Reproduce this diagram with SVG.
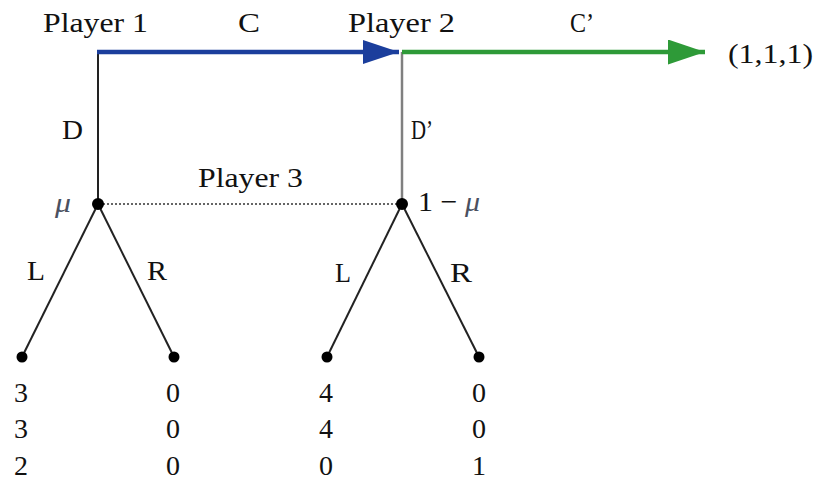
<svg xmlns="http://www.w3.org/2000/svg" width="819" height="487" viewBox="0 0 819 487">
  <style>
    text { font-family: 'Liberation Serif', Tinos, 'Times New Roman', Times, serif; font-size: 28px; fill: #111; }
    .mu { font-style: italic; fill: #4a5060; }
    .edge { stroke: #222; stroke-width: 2; fill: none; }
    .dot { fill: #000; }
  </style>
  <defs>
    <marker id="arrowBlue" viewBox="0 0 36 24" refX="36" refY="12" markerWidth="36" markerHeight="24" markerUnits="userSpaceOnUse" orient="auto">
      <path d="M0,0 L36,12 L0,24 Z" fill="#1b3e9c"/>
    </marker>
    <marker id="arrowGreen" viewBox="0 0 37 25" refX="37" refY="12.5" markerWidth="37" markerHeight="25" markerUnits="userSpaceOnUse" orient="auto">
      <path d="M0,0 L37,12.5 L0,25 Z" fill="#2e9a38"/>
    </marker>
  </defs>

  <!-- connectors -->
  <g id="connectors">
    <line x1="98" y1="52" x2="98" y2="204" class="edge"/>
    <line x1="402" y1="52" x2="402" y2="204" stroke="#808080" stroke-width="2.5"/>
    <line x1="97" y1="52" x2="399" y2="52" stroke="#1b3e9c" stroke-width="4.5" marker-end="url(#arrowBlue)"/>
    <line x1="402" y1="52" x2="705" y2="52" stroke="#2e9a38" stroke-width="4.5" marker-end="url(#arrowGreen)"/>
    <line x1="103" y1="204" x2="397" y2="204" stroke="#333" stroke-width="1.5" stroke-dasharray="2,2"/>
    <line x1="98" y1="204" x2="22" y2="357" class="edge"/>
    <line x1="98" y1="204" x2="174" y2="357" class="edge"/>
    <line x1="402" y1="204" x2="327" y2="357" class="edge"/>
    <line x1="402" y1="204" x2="479" y2="357" class="edge"/>
  </g>

  <!-- decision nodes -->
  <g id="player1">
    <text x="43" y="32" textLength="105" lengthAdjust="spacingAndGlyphs">Player 1</text>
  </g>
  <g id="player2">
    <text x="348" y="32" textLength="107" lengthAdjust="spacingAndGlyphs">Player 2</text>
  </g>
  <g id="player3-left">
    <circle cx="98" cy="204" r="6" class="dot"/>
    <text x="55" y="212" class="mu" textLength="16" lengthAdjust="spacingAndGlyphs">μ</text>
  </g>
  <g id="player3-right">
    <circle cx="402" cy="204" r="6" class="dot"/>
    <text x="418" y="211" textLength="62" lengthAdjust="spacingAndGlyphs">1 − <tspan class="mu">μ</tspan></text>
  </g>
  <g id="info-set">
    <text x="198" y="187" textLength="105" lengthAdjust="spacingAndGlyphs">Player 3</text>
  </g>

  <!-- action labels -->
  <g id="actions">
    <text x="238" y="32" textLength="22" lengthAdjust="spacingAndGlyphs">C</text>
    <text x="570" y="32" textLength="24" lengthAdjust="spacingAndGlyphs">C’</text>
    <text x="62" y="139" textLength="21" lengthAdjust="spacingAndGlyphs">D</text>
    <text x="411" y="139" textLength="22" lengthAdjust="spacingAndGlyphs">D’</text>
    <text x="27" y="280" textLength="18" lengthAdjust="spacingAndGlyphs">L</text>
    <text x="147" y="280" textLength="20" lengthAdjust="spacingAndGlyphs">R</text>
    <text x="335" y="282" textLength="16" lengthAdjust="spacingAndGlyphs">L</text>
    <text x="450" y="282" textLength="22" lengthAdjust="spacingAndGlyphs">R</text>
  </g>

  <!-- terminal nodes with payoffs -->
  <g id="outcome-C">
    <text x="728" y="63" textLength="85" lengthAdjust="spacingAndGlyphs">(1,1,1)</text>
  </g>
  <g id="leaf-1">
    <circle cx="22" cy="357" r="5.5" class="dot"/>
    <text x="14" y="402">3</text>
    <text x="14" y="438">3</text>
    <text x="14" y="475">2</text>
  </g>
  <g id="leaf-2">
    <circle cx="174" cy="357" r="5.5" class="dot"/>
    <text x="166" y="402">0</text>
    <text x="166" y="438">0</text>
    <text x="166" y="475">0</text>
  </g>
  <g id="leaf-3">
    <circle cx="327" cy="357" r="5.5" class="dot"/>
    <text x="319" y="402">4</text>
    <text x="319" y="438">4</text>
    <text x="319" y="475">0</text>
  </g>
  <g id="leaf-4">
    <circle cx="479" cy="357" r="5.5" class="dot"/>
    <text x="472" y="402">0</text>
    <text x="472" y="438">0</text>
    <text x="472" y="475">1</text>
  </g>
</svg>
